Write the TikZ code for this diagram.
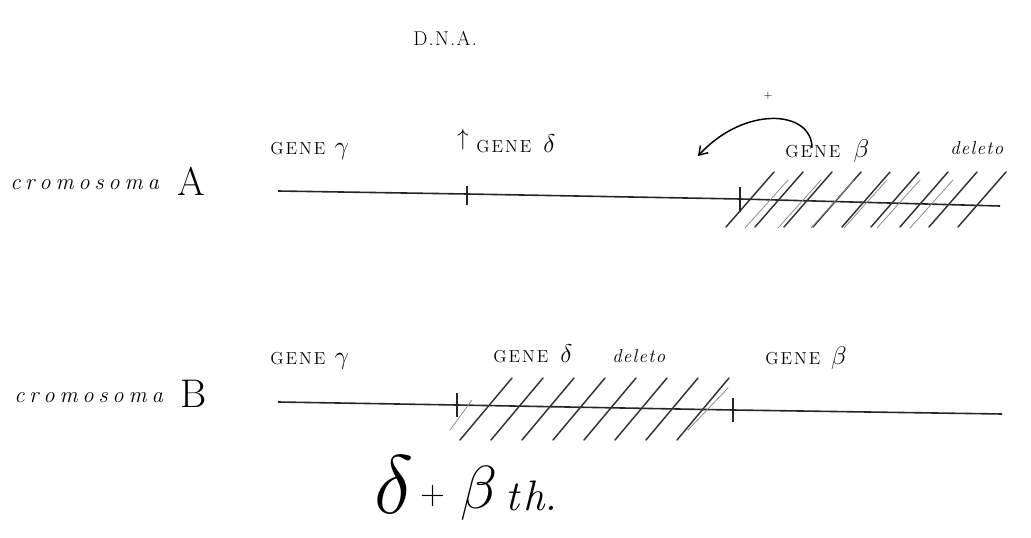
\documentclass[tikz,border=0pt]{standalone}
\usepackage{fontspec}
\usetikzlibrary{arrows.meta,calc}
% greek gene letters, a little larger than the capitals
\newcommand{\gk}[1]{\scalebox{1.6}{$#1$}}
% hand-spaced words
\newcommand{\genew}{G\kern1.5pt E\kern1.5pt N\kern1.5pt E}
\newcommand{\cromw}{c\kern3.6pt r\kern3.6pt o\kern3.6pt m\kern3.6pt o\kern3.6pt s\kern3.6pt o\kern3.6pt m\kern3.6pt a}
\newcommand{\delw}{d\kern1pt e\kern1pt l\kern1pt e\kern1pt t\kern1pt o}
\begin{document}
\begin{tikzpicture}[x=0.75pt,y=-0.75pt,
  strand/.style={line width=1.2pt, black!85},
  bound/.style={line width=1.3pt, black!85},
  hatch/.style={line width=1.1pt, black!80, line cap=round},
  genelbl/.style={font=\fontsize{13}{15}\selectfont, anchor=base west, inner sep=0pt},
  chromlbl/.style={font=\fontsize{17}{19}\selectfont\itshape, anchor=base west, inner sep=0pt},
  dellbl/.style={font=\fontsize{14}{16}\selectfont\itshape, anchor=base west, inner sep=0pt},
  bigletter/.style={font=\fontsize{30}{32}\selectfont, anchor=base west, inner sep=0pt}]
\useasboundingbox (0,0) rectangle (1031,538);

% title
\node[font=\fontsize{15}{17}\selectfont, anchor=base west, inner sep=0pt] (title) at (413,46) {D\kern1pt.\kern1pt N\kern1pt.\kern1pt A\kern1pt.};

% ---------- chromosome A ----------
\node[chromlbl] (chrA) at (10,190) {\cromw};
\node[bigletter] (letA) at (177,196) {A};

\coordinate (A0) at (278,191);
\coordinate (A1) at (467,194);
\coordinate (A2) at (740,199);
\coordinate (A3) at (1000,206);
\draw[strand] (A0) -- (A1) -- (A2) -- (A3);
\draw[bound] ($(A1)+(0,-8)$) -- ($(A1)+(0,11)$);
\draw[bound] ($(A2)+(0,-12)$) -- ($(A2)+(0,13)$);

% deleted beta region
\foreach \i in {0,...,8}
  \draw[hatch] (726+29*\i,227) -- (774+29*\i,172);
\foreach \i in {0,...,5}
  \draw[hatch, black!45, line width=0.6pt] (745+33*\i,228) -- (788+33*\i,180);

\node[genelbl] (gAg) at (270,155) {\genew\hspace{7pt}\gk{\gamma}};
\node[font=\fontsize{16}{18}\selectfont, inner sep=0pt] (upA) at (463,140) {$\uparrow$};
\node[genelbl] (gAd) at (476,153) {\genew\hspace{9pt}\gk{\delta}};
\node[genelbl] (gAb) at (785,158) {\genew\hspace{10pt}\gk{\beta}};
\node[dellbl] (delA) at (950,155) {\delw};

% fusion arrow over the beta gene
\coordinate (arrS) at (812,148);
\coordinate (arrE) at (698,156);
\draw[line width=1.1pt, -{Straight Barb[length=6pt,width=8pt]}]
  (arrS) .. controls (812,110) and (745,105) .. (arrE);
\node[font=\fontsize{8}{9}\selectfont, inner sep=0pt] (plus) at (768,96) {+};

% ---------- chromosome B ----------
\node[chromlbl] (chrB) at (14,402) {\cromw};
\node[bigletter] (letB) at (180,407) {B};

\coordinate (B0) at (278,402);
\coordinate (B1) at (457,405);
\coordinate (B2) at (733,410);
\coordinate (B3) at (1002,414);
\draw[strand] (B0) -- (B1) -- (B2) -- (B3);
\draw[bound] ($(B1)+(0,-12)$) -- ($(B1)+(0,12)$);
\draw[bound] ($(B2)+(0,-12)$) -- ($(B2)+(0,12)$);

% deleted delta region
\foreach \i in {0,...,7}
  \draw[hatch] (460+31*\i,440) -- (512+31*\i,378);
\draw[hatch, black!45, line width=0.6pt] (450,430) -- (472,400);
\draw[hatch, black!45, line width=0.6pt] (688,430) -- (728,388);

\node[genelbl] (gBg) at (270,364) {\genew\hspace{7pt}\gk{\gamma}};
\node[genelbl] (gBd) at (493,362) {\genew\hspace{9pt}\gk{\delta}};
\node[dellbl] (delB) at (612,362) {\delw};
\node[genelbl] (gBb) at (765,364) {\genew\hspace{8pt}\gk{\beta}};

% phenotype: delta-beta thalassaemia
\node[anchor=base west, inner sep=0pt] (phD) at (374,513) {\scalebox{3}{\fontsize{20}{22}\selectfont$\delta$}};
\node[anchor=base west, inner sep=0pt] (phP) at (420,504) {\scalebox{1.6}{\fontsize{16}{18}\selectfont+}};
\node[anchor=base west, inner sep=0pt] (phB) at (460,508) {\scalebox{2.2}{\fontsize{20}{22}\selectfont$\beta$}};
\node[anchor=base west, inner sep=0pt, font=\fontsize{32}{34}\selectfont\itshape] (phT) at (505,510) {t\kern3pt h.};
\end{tikzpicture}
\end{document}
